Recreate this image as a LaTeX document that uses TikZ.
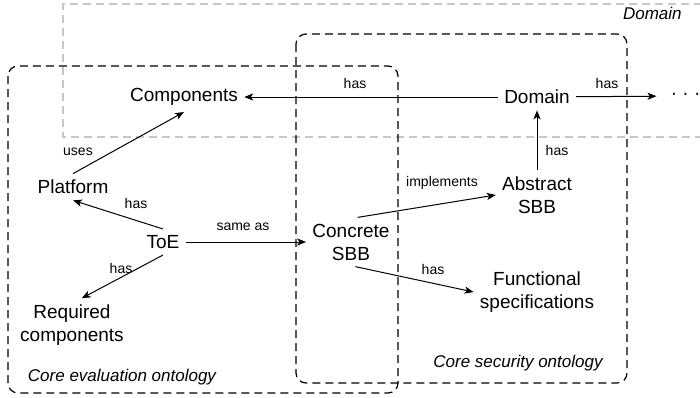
\documentclass[tikz,border=0pt]{standalone}
\usepackage{fontspec}
\setmainfont{Liberation Sans}
\usetikzlibrary{arrows.meta}
\begin{document}
\begin{tikzpicture}[x=0.5pt,y=-0.5pt,
  concept/.style={font=\fontsize{9.5}{11.5}\selectfont, align=center, inner sep=3pt},
  rel/.style={font=\fontsize{7}{8}\selectfont, inner sep=0pt},
  region/.style={font=\fontsize{8.5}{10}\selectfont\itshape, inner sep=0pt},
  link/.style={line width=0.5pt, -{Stealth[length=4.5pt,width=3.6pt,inset=1.2pt]}},
  frame/.style={line width=0.6pt, dash pattern=on 4pt off 2.5pt, rounded corners=5pt},
  domframe/.style={line width=0.6pt, draw=black!22, dash pattern=on 4pt off 2.5pt}]
\useasboundingbox (0,0) rectangle (700,397);

% open domain band running off to the right
\draw[domframe] (702,4) -- (63,4) -- (63,137) -- (702,137);
\node[region, anchor=east] (domlabel) at (682,13) {Domain};

% ontology frames
\draw[frame] (8,66) rectangle (398,393);
\draw[frame] (296,34) rectangle (627,383);
\node[region] (evallabel) at (122,377) {Core evaluation ontology};
\node[region] (seclabel) at (518,363) {Core security ontology};

% concepts
\node[concept] (comp) at (184,97) {Components};
\node[concept] (dom) at (537,97) {Domain};
\node[concept, inner xsep=7pt] (more) at (685.6,96) {· · ·};
\node[concept] (plat) at (73,187) {Platform};
\node[concept] (toe) at (163,242) {ToE};
\node[concept] (conc) at (351,242) {Concrete\\SBB};
\node[concept] (abs) at (537,195) {Abstract\\SBB};
\node[concept] (func) at (537,292) {Functional\\specifications};
\node[concept] (req) at (72,325) {Required\\components};

% relations
\draw[link] (dom) -- (comp);
\draw[link] (dom) -- (more);
\draw[link] (abs.north) -- (dom.south);
\draw[link] (plat.north) -- (comp.south);
\draw[link] (toe.north) -- (plat.south);
\draw[link] (toe.south) -- (req.70);
\draw[link] (toe) -- (conc);
\draw[link] (conc.75) -- (abs.west);
\draw[link] (conc.-80) -- (func.west);

% relation labels
\node[rel] (hasdc) at (355,83) {has};
\node[rel] (hasdm) at (607,83) {has};
\node[rel] (hasad) at (557,150) {has};
\node[rel] (uses) at (78,152) {uses};
\node[rel] (hastp) at (136,203) {has};
\node[rel] (hastr) at (121,268) {has};
\node[rel] (same) at (243,227) {same as};
\node[rel] (impl) at (442,183) {implements};
\node[rel] (hascf) at (433,269) {has};
\end{tikzpicture}
\end{document}
